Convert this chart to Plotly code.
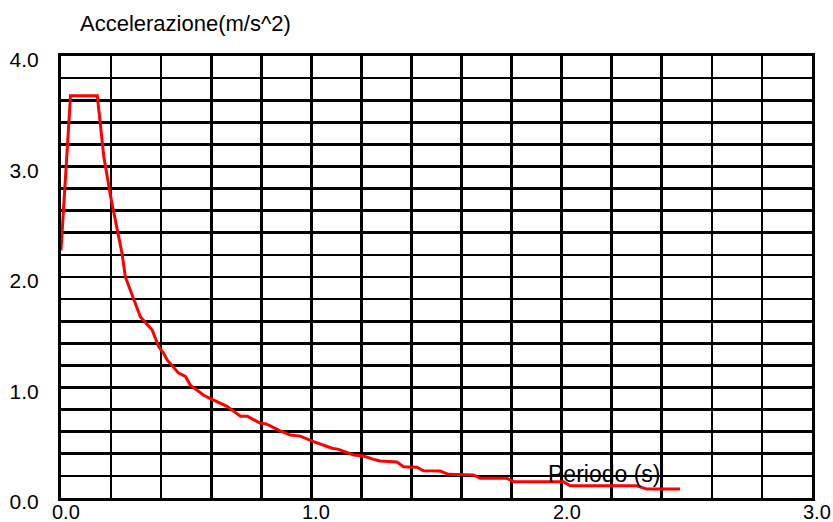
import plotly.graph_objects as go

# Period (s) and spectral acceleration (m/s^2)
periodo = [0.0, 0.038, 0.145, 0.171, 0.198, 0.244, 0.257, 0.317, 0.364, 0.39,
           0.41, 0.424, 0.47, 0.497, 0.517, 0.57, 0.597, 0.663, 0.717, 0.745,
           0.793, 0.82, 0.873, 0.916, 0.956, 1.009, 1.083, 1.109, 1.169, 1.209,
           1.249, 1.275, 1.342, 1.368, 1.422, 1.448, 1.515, 1.548, 1.648, 1.675,
           1.781, 1.81, 2.007, 2.034, 2.30, 2.34, 2.473]
accel = [2.24, 3.64, 3.64, 3.09, 2.73, 2.21, 2.0, 1.64, 1.52, 1.37,
         1.31, 1.25, 1.13, 1.10, 1.02, 0.93, 0.90, 0.83, 0.74, 0.74,
         0.68, 0.67, 0.61, 0.57, 0.56, 0.51, 0.45, 0.44, 0.39, 0.38,
         0.35, 0.335, 0.326, 0.283, 0.278, 0.247, 0.244, 0.214, 0.208, 0.178,
         0.178, 0.148, 0.148, 0.111, 0.111, 0.081, 0.081]

x_tickvals = [0, 1, 2, 3]
x_ticktext = ["0.0", "1.0", "2.0", "3.0"]
y_tickvals = [0, 1, 2, 3, 4]
y_ticktext = ["0.0", "1.0", "2.0", "3.0", "4.0"]

x_title = "Periodo (s)"
y_title = "Accelerazione(m/s^2)"

FONT = "Liberation Sans, Arial, sans-serif"

fig = go.Figure()
fig.add_trace(go.Scatter(x=periodo, y=accel, mode="lines",
                         line=dict(color="#ff0000", width=3),
                         showlegend=False, hoverinfo="skip"))

# x tick labels placed just under the axis line (tight, as in the reference)
x_label_annots = [
    dict(text=t, xref="x", yref="paper", x=v, y=0, xanchor="center", yanchor="top",
         xshift=5, yshift=-1, showarrow=False,
         font=dict(size=20, family=FONT, color="black"))
    for v, t in zip(x_tickvals, x_ticktext)
]

fig.update_layout(
    width=833, height=522,
    margin=dict(l=61, r=21, t=56, b=24),
    paper_bgcolor="white", plot_bgcolor="white",
    font=dict(family=FONT, color="black"),
    xaxis=dict(range=[0, 3], tickvals=x_tickvals, showticklabels=False,
               showgrid=True, gridcolor="black", gridwidth=2.7,
               minor=dict(dtick=0.2, showgrid=True, gridcolor="black", gridwidth=2.7),
               showline=True, linecolor="black", linewidth=3, mirror=True,
               ticks="", ticklen=0, zeroline=False, automargin=False),
    yaxis=dict(range=[0, 4], tickvals=y_tickvals, ticktext=y_ticktext,
               showgrid=True, gridcolor="black", gridwidth=2.7,
               minor=dict(dtick=0.2, showgrid=True, gridcolor="black", gridwidth=2.7),
               showline=True, linecolor="black", linewidth=3, mirror=True,
               ticks="", ticklen=0, tickfont=dict(size=21, family=FONT, color="black"),
               ticklabelshift=4, ticklabelstandoff=15, zeroline=False,
               automargin=False),
    annotations=[
        dict(text=y_title, xref="paper", yref="paper", x=(78 - 61) / 751, y=1.0,
             xanchor="left", yanchor="bottom", yshift=18, showarrow=False,
             font=dict(size=22, family=FONT, color="black")),
        dict(text=x_title, xref="x", yref="y", x=2.17, y=0.22,
             xanchor="center", yanchor="middle", showarrow=False,
             font=dict(size=23, family=FONT, color="black")),
    ] + x_label_annots,
)

fig.write_html("out.html",
               config={"displayModeBar": False, "staticPlot": True},
               post_script="document.body.style.margin='0';document.body.style.overflow='hidden';")
